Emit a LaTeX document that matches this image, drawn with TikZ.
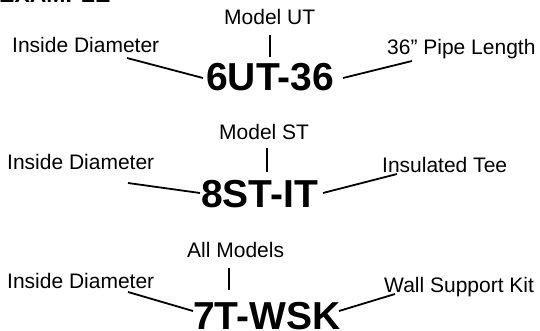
\documentclass[tikz,border=0pt]{standalone}
\usepackage{fontspec}
\setmainfont{Liberation Sans}
\begin{document}
\begin{tikzpicture}[x=1pt,y=-1pt,
  lbl/.style={inner sep=0pt,anchor=base west,font=\fontsize{21}{23}\selectfont},
  code/.style={inner sep=0pt,anchor=base west,font=\fontsize{39}{41}\selectfont\bfseries},
  hdr/.style={inner sep=0pt,anchor=base west,font=\fontsize{23}{25}\selectfont\bfseries},
  conn/.style={line width=1.8pt}]
\useasboundingbox (0,0) rectangle (540,331);
\clip (0,0) rectangle (540,331);
% header (cut off at the top)
\node[hdr] (hd) at (-1,2.5) {EXAMPLE};
% --- example 1
\node[lbl] (m1) at (224,25) {Model UT};
\node[lbl] (d1) at (12,53) {Inside Diameter};
\node[code] (c1) at (206,91) {6UT-36};
\node[lbl] (r1) at (387,55) {36” Pipe Length};
\coordinate (v1a) at (270,35);
\coordinate (v1b) at (270,57);
\coordinate (l1a) at (127,58);
\coordinate (l1b) at (203,78);
\coordinate (r1a) at (343,78);
\coordinate (r1b) at (412,61);
\draw[conn] (v1a) -- (v1b);
\draw[conn] (l1a) -- (l1b);
\draw[conn] (r1a) -- (r1b);
% --- example 2
\node[lbl] (m2) at (219,140) {Model ST};
\node[lbl] (d2) at (7,170) {Inside Diameter};
\node[code] (c2) at (201,207) {8ST-IT};
\node[lbl] (r2) at (382,172) {Insulated Tee};
\coordinate (v2a) at (267,148);
\coordinate (v2b) at (267,172);
\coordinate (l2a) at (128,183);
\coordinate (l2b) at (200,193);
\coordinate (r2a) at (323,193);
\coordinate (r2b) at (397,174);
\draw[conn] (v2a) -- (v2b);
\draw[conn] (l2a) -- (l2b);
\draw[conn] (r2a) -- (r2b);
% --- example 3
\node[lbl] (m3) at (187,257) {All Models};
\node[lbl] (d3) at (7,288) {Inside Diameter};
\node[code] (c3) at (193,329) {7T-WSK};
\node[lbl] (r3) at (384,292) {Wall Support Kit};
\coordinate (v3a) at (229,268);
\coordinate (v3b) at (229,290);
\coordinate (l3a) at (128,292);
\coordinate (l3b) at (193,311);
\coordinate (r3a) at (339,311);
\coordinate (r3b) at (395,294);
\draw[conn] (v3a) -- (v3b);
\draw[conn] (l3a) -- (l3b);
\draw[conn] (r3a) -- (r3b);
\end{tikzpicture}
\end{document}
